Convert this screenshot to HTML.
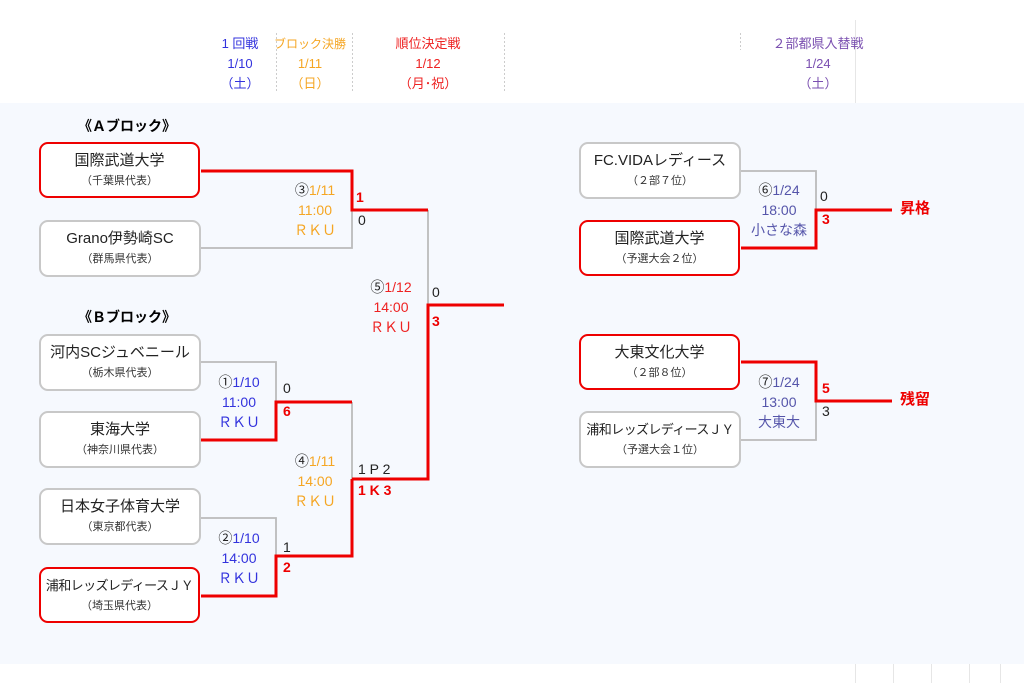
<!DOCTYPE html>
<html><head><meta charset="utf-8"><style>
html,body{margin:0;padding:0;width:1024px;height:683px;overflow:hidden;background:#fff;position:relative;font-family:"Liberation Sans","Noto Sans CJK JP",sans-serif;}
.panel{position:absolute;left:0;top:103px;width:1024px;height:561px;background:#f6f9fe;}
.t{position:absolute;white-space:nowrap;font-size:14px;line-height:20px;}
.c{text-align:center;}
.box{position:absolute;width:158px;height:53px;border:2px solid #c8c8c8;border-radius:9px;background:#fff;text-align:center;box-sizing:content-box;}
.box.w{border:2.5px solid #ee0000;width:157px;height:52px;}
.box .n{font-size:15px;line-height:18px;margin-top:8px;color:#222;white-space:nowrap;}
.box .n.sm{font-size:13px;letter-spacing:-0.6px;}
.box .s{font-size:11px;line-height:16px;margin-top:3px;color:#333;white-space:nowrap;}
.hd{position:absolute;text-align:center;font-size:13px;line-height:20px;white-space:nowrap;}
.r{color:#ee0000;font-weight:bold;}
.k{color:#222;}
</style></head><body>
<div class="panel"></div>
<svg width="1024" height="683" style="position:absolute;left:0;top:0">
<g stroke="#ccc" stroke-width="1" stroke-dasharray="2,2">
<line x1="276.5" y1="33" x2="276.5" y2="93"/><line x1="352.5" y1="33" x2="352.5" y2="93"/><line x1="504.5" y1="33" x2="504.5" y2="93"/><line x1="740.5" y1="33" x2="740.5" y2="50"/>
</g>
<g stroke="#e6e6e6" stroke-width="1">
<line x1="855.5" y1="20" x2="855.5" y2="103"/>
<line x1="855.5" y1="664" x2="855.5" y2="683"/><line x1="893.5" y1="664" x2="893.5" y2="683"/><line x1="931.5" y1="664" x2="931.5" y2="683"/><line x1="969.5" y1="664" x2="969.5" y2="683"/><line x1="1000.5" y1="664" x2="1000.5" y2="683"/>
</g>
<g fill="none" stroke="#bbb" stroke-width="1.8">
<polyline points="201,248 352,248 352,210"/>
<polyline points="428,210 428,305"/>
<polyline points="201,362 276,362 276,402"/>
<polyline points="352,402 352,479"/>
<polyline points="201,518 276,518 276,556"/>
<polyline points="741,171 816,171 816,210"/>
<polyline points="741,440 816,440 816,401"/>
</g>
<g fill="none" stroke="#ee0000" stroke-width="3">
<polyline points="201,171 352,171 352,210 428,210"/>
<polyline points="504,305 428,305 428,479 352,479"/>
<polyline points="201,440 276,440 276,402 352,402"/>
<polyline points="201,596 276,596 276,556 352,556 352,479"/>
<polyline points="741,248 816,248 816,210 892,210"/>
<polyline points="741,362 816,362 816,401 892,401"/>
</g>
</svg>
<div class="hd" style="left:200px;width:80px;top:34px;color:#3333dd">1 回戦<br>1/10<br>（土）</div>
<div class="hd" style="left:270px;width:80px;top:34px;color:#f5a623;font-size:12px">ブロック決勝<br><span style="font-size:13px">1/11<br>（日）</span></div>
<div class="hd" style="left:378px;width:100px;top:34px;color:#ee2222">順位決定戦<br>1/12<br>（月･祝）</div>
<div class="hd" style="left:758px;width:120px;top:34px;color:#7a4fb0">２部都県入替戦<br>1/24<br>（土）</div>

<div class="t" style="left:78px;top:116px;font-weight:bold;font-size:14px">《Ａブロック》</div>
<div class="t" style="left:78px;top:307px;font-weight:bold;font-size:14px">《Ｂブロック》</div>

<div class="box w" style="left:39px;top:142px"><div class="n">国際武道大学</div><div class="s">（千葉県代表）</div></div>
<div class="box" style="left:39px;top:220px"><div class="n">Grano伊勢崎SC</div><div class="s">（群馬県代表）</div></div>
<div class="box" style="left:39px;top:334px"><div class="n">河内SCジュベニール</div><div class="s">（栃木県代表）</div></div>
<div class="box" style="left:39px;top:411px"><div class="n">東海大学</div><div class="s">（神奈川県代表）</div></div>
<div class="box" style="left:39px;top:488px"><div class="n">日本女子体育大学</div><div class="s">（東京都代表）</div></div>
<div class="box w" style="left:39px;top:567px"><div class="n sm">浦和レッズレディースＪＹ</div><div class="s">（埼玉県代表）</div></div>

<div class="box" style="left:579px;top:142px"><div class="n">FC.VIDAレディース</div><div class="s">（２部７位）</div></div>
<div class="box w" style="left:579px;top:220px"><div class="n">国際武道大学</div><div class="s">（予選大会２位）</div></div>
<div class="box w" style="left:579px;top:334px"><div class="n">大東文化大学</div><div class="s">（２部８位）</div></div>
<div class="box" style="left:579px;top:411px"><div class="n sm">浦和レッズレディースＪＹ</div><div class="s">（予選大会１位）</div></div>

<div class="t c" style="left:280px;width:70px;top:180px;color:#f5a623"><span class="k">③</span>1/11<br>11:00<br>ＲＫＵ</div>
<div class="t c" style="left:356px;width:70px;top:277px;color:#ee2222"><span class="k">⑤</span>1/12<br>14:00<br>ＲＫＵ</div>
<div class="t c" style="left:204px;width:70px;top:372px;color:#3333dd"><span class="k">①</span>1/10<br>11:00<br>ＲＫＵ</div>
<div class="t c" style="left:280px;width:70px;top:451px;color:#f5a623"><span class="k">④</span>1/11<br>14:00<br>ＲＫＵ</div>
<div class="t c" style="left:204px;width:70px;top:528px;color:#3333dd"><span class="k">②</span>1/10<br>14:00<br>ＲＫＵ</div>
<div class="t c" style="left:744px;width:70px;top:180px;color:#5555aa"><span class="k">⑥</span>1/24<br>18:00<br>小さな森</div>
<div class="t c" style="left:744px;width:70px;top:372px;color:#5555aa"><span class="k">⑦</span>1/24<br>13:00<br>大東大</div>

<div class="t r" style="left:356px;top:187px">1</div>
<div class="t k" style="left:358px;top:210px">0</div>
<div class="t k" style="left:432px;top:282px">0</div>
<div class="t r" style="left:432px;top:311px">3</div>
<div class="t k" style="left:283px;top:378px">0</div>
<div class="t r" style="left:283px;top:401px">6</div>
<div class="t k" style="left:358px;top:459px">1 P 2</div>
<div class="t r" style="left:358px;top:480px">1 K 3</div>
<div class="t k" style="left:283px;top:537px">1</div>
<div class="t r" style="left:283px;top:557px">2</div>
<div class="t k" style="left:820px;top:186px">0</div>
<div class="t r" style="left:822px;top:209px">3</div>
<div class="t r" style="left:822px;top:378px">5</div>
<div class="t k" style="left:822px;top:401px">3</div>
<div class="t r" style="left:900px;top:199px;font-size:15px">昇格</div>
<div class="t r" style="left:900px;top:390px;font-size:15px">残留</div>
</body></html>
